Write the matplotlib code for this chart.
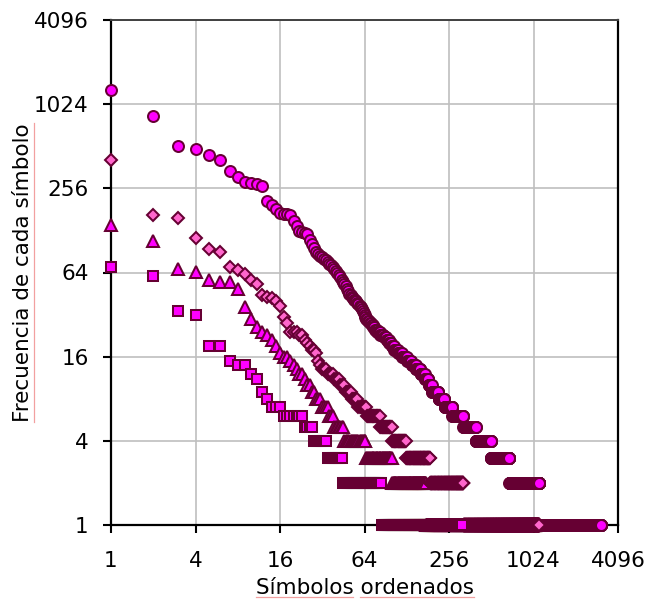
import numpy as np
import matplotlib
matplotlib.use("Agg")
import matplotlib.pyplot as plt
from matplotlib.lines import Line2D
from matplotlib.ticker import FixedLocator, FixedFormatter, NullLocator

# Rank-frequency tables: each distinct frequency and how many symbols share it
circ_freq = [1300, 840, 512, 488, 440, 407, 342, 309, 282, 278, 273, 265, 207, 194,
             181, 170, 169, 167, 164, 149, 138, 126,
             124, 122, 120, 110, 103, 96, 90, 87, 84, 82, 80, 78, 76, 74, 72, 70, 68,
             66, 63, 61, 59, 57, 55, 53, 51, 49, 47, 45, 44, 43, 42,
             41, 40, 39, 38, 37, 36, 35, 34, 33, 32, 31, 30, 29, 28, 27, 26, 25, 24,
             23, 22, 21, 20, 19, 18, 17, 16, 15, 14, 13, 12, 11, 10, 9, 8, 7, 6, 5,
             4, 3, 2, 1]
circ_count = [1, 1, 1, 1, 1, 1, 1, 1, 1, 1, 1, 1, 1, 1,
              1, 1, 1, 1, 1, 1, 1, 1,
              1, 1, 1, 1, 1, 1, 1, 1, 1, 1, 1, 1, 1, 1, 1, 1, 1,
              1, 1, 1, 1, 1, 1, 1, 1, 1, 1, 1, 1, 1, 1,
              2, 1, 1, 1, 1, 1, 1, 1, 1, 1, 1, 2, 2, 2, 2, 2, 3, 4,
              5, 4, 4, 4, 4, 7, 8, 10, 10, 10, 12, 12, 10, 11, 22, 22, 33, 53, 74,
              113, 179, 437, 1954]

diam_freq = [410, 165, 157, 113, 94, 89, 70, 67, 62, 57, 53, 44, 43, 42, 40, 37, 31, 28,
             24, 23, 21, 20, 19, 18, 17, 15, 14, 13, 12, 11, 10, 9, 8, 7, 6, 5, 4, 3,
             2, 1]
diam_count = [1, 1, 1, 1, 1, 1, 1, 1, 1, 1, 1, 1, 1, 1, 1, 1, 1, 1,
              3, 2, 1, 1, 1, 2, 1, 1, 1, 3, 4, 4, 4, 5, 6, 9, 16, 18, 26, 61,
              137, 796]

tri_freq = [140, 107, 68, 65, 57, 55, 49, 36, 30, 26, 24, 23, 21, 19, 17, 16, 15, 14,
            13, 12, 11, 10, 9, 8, 7, 6, 5, 4, 3, 2, 1]
tri_count = [1, 1, 1, 1, 1, 2, 1, 1, 1, 1, 1, 1, 1, 1, 1, 2, 1, 1,
             1, 2, 1, 2, 2, 3, 4, 3, 7, 20, 35, 75, 875]

sq_freq = [70, 60, 34, 32, 19, 15, 14, 12, 11, 9, 8, 7, 6, 5, 4, 3, 2, 1]
sq_count = [1, 1, 1, 1, 2, 1, 2, 1, 1, 1, 1, 3, 7, 4, 7, 10, 40, 233]

tick_values = [1, 4, 16, 64, 256, 1024, 4096]
tick_labels = ["1", "4", "16", "64", "256", "1024", "4096"]

EDGE = "#660033"
MAGENTA = "#FF00FF"
PINK = "#FF66CC"
SQUIGGLE = "#F2A0A0"

plt.rcParams["font.family"] = ["DejaVu Sans"]

fig = plt.figure(figsize=(6.47, 6.06), dpi=100)
ax = fig.add_axes([111 / 647, 81 / 606, 507 / 647, 505 / 606])

series = [
    (circ_freq, circ_count, "o", 7.9, MAGENTA),
    (tri_freq, tri_count, "^", 8.8, MAGENTA),
    (diam_freq, diam_count, "D", 6.2, PINK),
    (sq_freq, sq_count, "s", 7.6, MAGENTA),
]
for i, (fq, cnt, mk, ms, fc) in enumerate(series):
    freqs = np.repeat(np.array(fq, dtype=float), cnt)
    ranks = np.arange(1, len(freqs) + 1)
    ax.plot(ranks, freqs, linestyle="none", marker=mk, markersize=ms,
            markerfacecolor=fc, markeredgecolor=EDGE, markeredgewidth=1.45,
            clip_on=False, zorder=4 + i)

ax.set_xscale("log", base=2)
ax.set_yscale("log", base=2)
ax.set_xlim(1, 4096)
ax.set_ylim(1, 4096)

for axis in (ax.xaxis, ax.yaxis):
    axis.set_major_locator(FixedLocator(tick_values))
    axis.set_major_formatter(FixedFormatter(tick_labels))
    axis.set_minor_locator(NullLocator())

ax.tick_params(axis="both", which="major", direction="out", length=6, width=1.5,
               color="black", labelsize=15.5, labelcolor="black")
ax.tick_params(axis="x", pad=13)
ax.tick_params(axis="y", pad=10)

ax.grid(True, color="#BFBFBF", linewidth=1.2)
ax.set_axisbelow(True)

for side in ("left", "bottom", "right"):
    ax.spines[side].set_color("black")
    ax.spines[side].set_linewidth(1.6)
ax.spines["top"].set_color("#404040")
ax.spines["top"].set_linewidth(1.4)

xlab = ax.set_xlabel("Símbolos ordenados", fontsize=15.5, labelpad=5)
ylab = ax.set_ylabel("Frecuencia de cada símbolo", fontsize=15.5, labelpad=1)

# faint proofing underline beneath the axis titles
fig.canvas.draw()
renderer = fig.canvas.get_renderer()
W, H = fig.bbox.width, fig.bbox.height

bx = xlab.get_window_extent(renderer)
w_first, _, _ = renderer.get_text_width_height_descent(
    "Símbolos", xlab.get_fontproperties(), ismath=False)
w_space, _, _ = renderer.get_text_width_height_descent(
    "Símbolos ", xlab.get_fontproperties(), ismath=False)
uy = (bx.y0 + 1) / H
for x0, x1 in ((bx.x0, bx.x0 + w_first), (bx.x0 + w_space, bx.x1)):
    fig.add_artist(Line2D([x0 / W, x1 / W], [uy, uy], color=SQUIGGLE,
                          linewidth=0.9, transform=fig.transFigure))

by = ylab.get_window_extent(renderer)
ux = (by.x1 + 1) / W
fig.add_artist(Line2D([ux, ux], [by.y0 / H, by.y1 / H], color=SQUIGGLE,
                      linewidth=0.9, transform=fig.transFigure))

fig.savefig("out.png", dpi=100)
